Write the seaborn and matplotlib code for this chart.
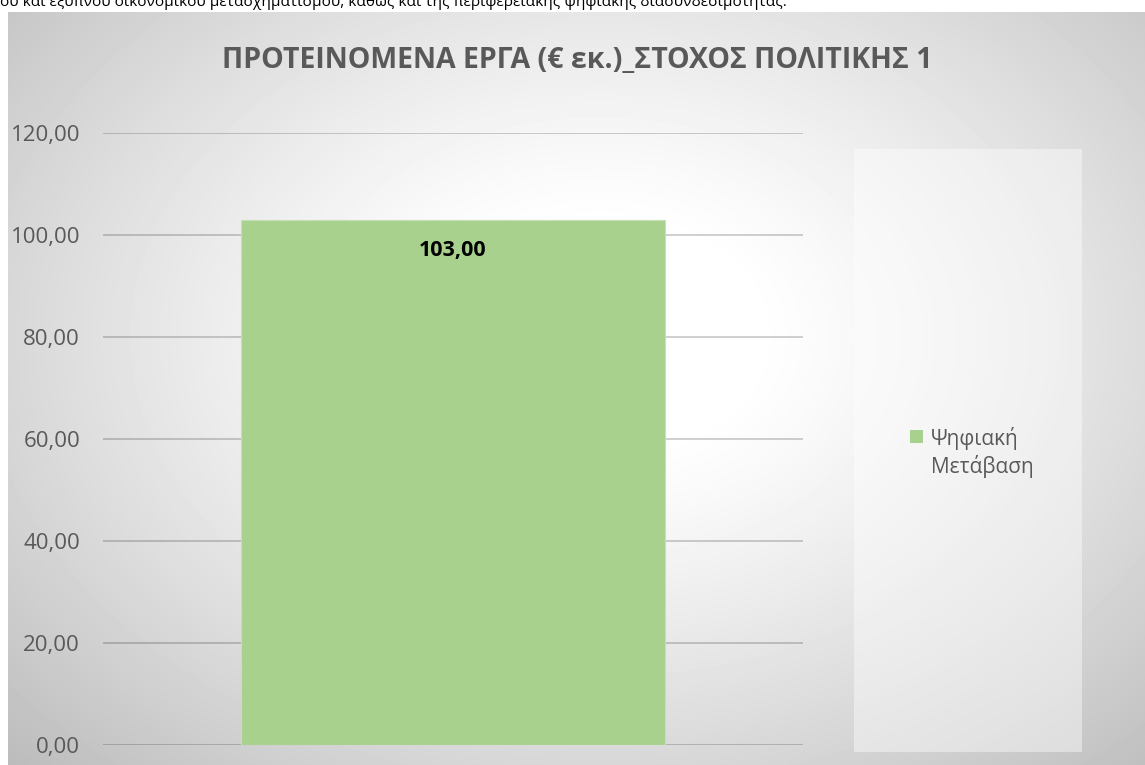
import matplotlib
matplotlib.use('Agg')
import matplotlib.pyplot as plt
from matplotlib.patches import Rectangle
from matplotlib.ticker import FuncFormatter
import seaborn as sns
import pandas as pd
import numpy as np

# ---- data ----
categories = ['Ψηφιακή Μετάβαση']
values = [103.00]
legend_labels = ['Ψηφιακή\nΜετάβαση']
y_ticks = [0, 20, 40, 60, 80, 100, 120]

title = 'ΠΡΟΤΕΙΝΟΜΕΝΑ ΕΡΓΑ (€ εκ.)_ΣΤΟΧΟΣ ΠΟΛΙΤΙΚΗΣ 1'
doc_line = ('ου και έξυπνου οικονομικού μετασχηματισμού, καθώς και της '
            'περιφερειακής ψηφιακής διασυνδεσιμότητας.')

BAR_COLOR = '#A9D18E'
TEXT_GREY = '#595959'

df = pd.DataFrame({'category': categories, 'value': values})

sns.set_theme(style='white')
plt.rcParams['font.family'] = ['Open Sans', 'DejaVu Sans']

W_PX, H_PX = 1145, 765
fig = plt.figure(figsize=(W_PX / 100, H_PX / 100), dpi=100)
fig.patch.set_facecolor('white')

# chart area background: radial grey gradient
bg = fig.add_axes([8 / W_PX, 0, 1 - 8 / W_PX, (H_PX - 12) / H_PX], zorder=-2)
gh, gw = 753, 1137
yy, xx = np.mgrid[0:gh, 0:gw]
cx, cy = gw * 0.52, gh * 0.43
d = np.sqrt(((xx - cx) / (gw * 0.52)) ** 2 + ((yy - cy) / (gh * 0.57)) ** 2) / np.sqrt(2)
f = np.clip((d - 0.18) / 0.82, 0, 1)
g = 1 - (67.5 / 255) * f ** 1.2
bg.imshow(g, cmap='gray', vmin=0, vmax=1, aspect='auto', interpolation='bilinear')
bg.axis('off')

# legend panel (semi-transparent white box)
fig.patches.append(Rectangle((854 / W_PX, (H_PX - 752) / H_PX), 228 / W_PX, 603 / H_PX,
                             transform=fig.transFigure, facecolor='white',
                             alpha=0.42, edgecolor='none', zorder=-1))

# plot area
ax = fig.add_axes([103 / W_PX, (H_PX - 745) / H_PX, 700 / W_PX, 612 / H_PX])
ax.set_facecolor('none')
sns.barplot(data=df, x='category', y='value', color=BAR_COLOR, width=0.606,
            saturation=1, edgecolor='#c5e0b4', linewidth=0.8, ax=ax)
ax.set_xlim(-0.5, 0.5)
ax.set_ylim(0, 120)
ax.set_yticks(y_ticks)
ax.yaxis.set_major_formatter(FuncFormatter(lambda v, p: f'{v:.2f}'.replace('.', ',')))
ax.set_xticks([])
ax.set_xlabel('')
ax.set_ylabel('')
ax.tick_params(axis='y', length=0, pad=16.5, labelsize=16, labelcolor=TEXT_GREY)
ax.yaxis.grid(True, color='black', alpha=0.2, linewidth=1.3)
ax.set_axisbelow(True)
for s in ax.spines.values():
    s.set_visible(False)

ax.bar_label(ax.containers[0], labels=[f'{v:.2f}'.replace('.', ',') for v in values],
             padding=-30, fontsize=15.5, fontweight='bold', color='black')

# title
fig.text(577 / W_PX, 1 - 68 / H_PX, title, ha='center', va='baseline',
         fontsize=20.5, fontweight='bold', color=TEXT_GREY)

# cut-off document text above the chart
fig.text(0, 1 - 6.5 / H_PX, doc_line, ha='left', va='baseline', fontsize=11.1, color='black')

# legend entry
fig.patches.append(Rectangle((910 / W_PX, (H_PX - 443) / H_PX), 13 / W_PX, 13 / H_PX,
                             transform=fig.transFigure, facecolor=BAR_COLOR,
                             edgecolor='none'))
fig.text(931 / W_PX, 1 - 473 / H_PX, legend_labels[0], ha='left', va='baseline',
         fontsize=15, color=TEXT_GREY, linespacing=1.3)

plt.savefig('out.png', dpi=100)
plt.close()
